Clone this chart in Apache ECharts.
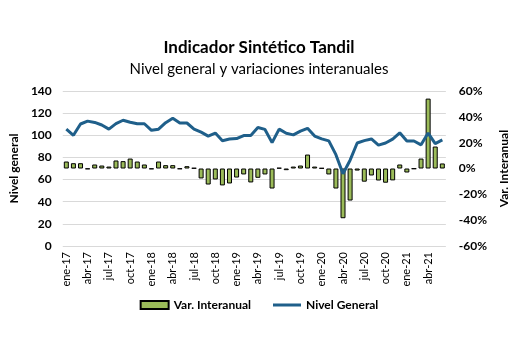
<!DOCTYPE html>
<html>
<head>
<meta charset="utf-8">
<script src="https://cdn.jsdelivr.net/npm/echarts@6/dist/echarts.min.js"></script>
<style>
  html, body { margin: 0; padding: 0; background: #fff; }
  #chart { width: 518px; height: 344px; }
</style>
</head>
<body>
<div id="chart"></div>
<script>
// Meses ene-17 a jun-21
const months = ['ene','feb','mar','abr','may','jun','jul','ago','sep','oct','nov','dic'];
const categories = [];
for (let y = 17; y <= 21; y++) {
  for (let m = 0; m < 12; m++) {
    if (y === 21 && m > 5) break;
    categories.push(months[m] + '-' + y);
  }
}

// Nivel general del indicador (eje izquierdo)
const nivelGeneral = [
  105.5, 100.0, 110.2, 112.8, 111.6, 109.3, 105.6, 110.5, 113.6, 111.8, 110.4, 110.4,
  104.5, 105.5, 111.4, 115.4, 111.1, 111.1, 105.6, 102.8, 99.3, 102.0, 95.1, 96.6,
  97.0, 99.8, 99.8, 107.0, 105.3, 93.4, 105.6, 101.8, 100.4, 103.8, 106.3, 99.3,
  96.8, 95.0, 82.5, 65.3, 77.5, 93.0, 95.2, 96.7, 91.1, 93.0, 96.5, 102.2,
  94.8, 94.8, 91.4, 102.0, 92.5, 95.8
];

// Variación interanual en % (eje derecho)
const varInteranual = [
  5.4, 4.1, 4.1, -0.5, 3.1, 2.3, 1.5, 6.2, 5.7, 7.7, 5.4, 3.1,
  -0.5, 5.4, 2.6, 2.6, -0.4, 1.8, 0.4, -7.7, -12.4, -8.5, -13.1, -11.6,
  -7.0, -4.6, -10.8, -7.2, -4.6, -15.5, 0.5, -1.3, 1.5, 2.3, 10.8, 1.5,
  0.3, -4.6, -15.5, -38.5, -24.8, -1.6, -10.2, -5.4, -9.3, -11.0, -9.2, 3.1,
  -3.1, -0.3, 7.7, 54.1, 17.0, 3.9
];

const FONT = 'Lato';
const LINE_COLOR = '#1f5f8a';
// Icono de leyenda: trazo horizontal centrado en una caja de 28x8
const lineIcon = 'path://M0,0 L0,0 M28,8 L28,8 M0,2.5 L28,2.5 L28,5.5 L0,5.5 Z';

const chart = echarts.init(document.getElementById('chart'));
chart.setOption({
  animation: false,
  backgroundColor: '#ffffff',
  textStyle: { fontFamily: FONT },
  title: {
    text: 'Indicador Sintético Tandil',
    subtext: 'Nivel general y variaciones interanuales',
    left: 'center',
    top: 34,
    itemGap: 6,
    textStyle: { fontFamily: FONT, fontSize: 17, fontWeight: 'bold', color: '#000' },
    subtextStyle: { fontFamily: FONT, fontSize: 15, color: '#000' }
  },
  grid: { left: 57, right: 66, top: 91, bottom: 98, containLabel: false },
  legend: {
    bottom: 28,
    left: 'center',
    itemWidth: 28,
    itemHeight: 8,
    itemGap: 22,
    textStyle: { fontFamily: FONT, fontSize: 12, fontWeight: 'bold', color: '#000' },
    data: [
      { name: 'Var. Interanual', icon: 'rect' },
      { name: 'Nivel General', icon: lineIcon, itemStyle: { color: LINE_COLOR, borderWidth: 0 } }
    ]
  },
  xAxis: {
    type: 'category',
    data: categories,
    boundaryGap: true,
    axisLine: { show: false },
    axisTick: { show: false },
    axisLabel: {
      interval: 2,
      rotate: 90,
      margin: 6,
      fontFamily: FONT,
      fontSize: 11,
      color: '#000'
    }
  },
  yAxis: [
    {
      type: 'value',
      min: 0, max: 140, interval: 20,
      name: 'Nivel general',
      nameLocation: 'middle',
      nameRotate: 90,
      nameGap: 33,
      nameTextStyle: { fontFamily: FONT, fontSize: 12, fontWeight: 'bold', color: '#000' },
      axisLine: { show: false },
      axisTick: { show: false },
      axisLabel: { margin: 11, fontFamily: FONT, fontSize: 12, fontWeight: 'bold', color: '#000' },
      splitLine: { lineStyle: { color: '#d9d9d9', width: 1 } }
    },
    {
      type: 'value',
      min: -60, max: 60, interval: 20,
      position: 'right',
      name: 'Var. Interanual',
      nameLocation: 'middle',
      nameRotate: 90,
      nameGap: 47,
      nameTextStyle: { fontFamily: FONT, fontSize: 12, fontWeight: 'bold', color: '#000' },
      axisLine: { show: false },
      axisTick: { show: false },
      axisLabel: { margin: 13, fontFamily: FONT, fontSize: 12, fontWeight: 'bold', color: '#000', formatter: '{value}%' },
      splitLine: { show: false }
    }
  ],
  series: [
    {
      name: 'Var. Interanual',
      type: 'bar',
      yAxisIndex: 1,
      data: varInteranual,
      barWidth: 5,
      itemStyle: { color: '#9bbb59', borderColor: '#000', borderWidth: 1 },
      z: 2
    },
    {
      name: 'Nivel General',
      type: 'line',
      yAxisIndex: 0,
      data: nivelGeneral,
      symbol: 'none',
      lineStyle: { color: LINE_COLOR, width: 3 },
      itemStyle: { color: LINE_COLOR },
      z: 3
    }
  ]
});
</script>
</body>
</html>
